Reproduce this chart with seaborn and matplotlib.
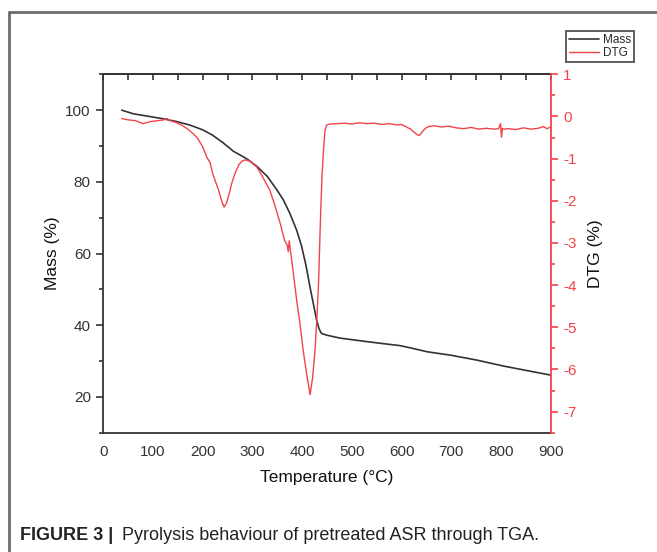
import matplotlib
matplotlib.use("Agg")
import matplotlib.pyplot as plt
from matplotlib.lines import Line2D
from matplotlib.ticker import MultipleLocator
import seaborn as sns
import pandas as pd

# ---- data ----
mass_temp = [37, 60, 90, 120, 148, 175, 200, 220, 240, 255, 262, 275, 290, 309, 330, 350,
             362, 375, 389, 399, 408, 416, 424, 429, 434, 439, 450, 476, 520, 560, 597,
             620, 651, 700, 750, 805, 850, 899]
mass_pct = [100.0, 99.0, 98.3, 97.6, 96.8, 95.8, 94.5, 93.0, 91.0, 89.3, 88.5, 87.5, 86.3,
            84.3, 81.5, 77.6, 75.0, 71.3, 66.5, 62.0, 56.5, 50.5, 45.0, 41.5, 39.0, 37.7,
            37.2, 36.4, 35.6, 34.9, 34.3, 33.6, 32.6, 31.6, 30.3, 28.6, 27.4, 26.1]

dtg_temp = [37, 50, 65, 80, 95, 110, 122, 128, 135, 148, 160, 170, 181, 190, 200, 208, 215,
            220, 225, 232, 238, 243, 248, 254, 258, 265, 272, 278, 285, 295, 309, 320, 335,
            345, 356, 365, 370, 372, 374, 380, 389, 396, 402, 409, 416, 421, 426, 430, 433,
            437, 440, 443, 446, 449, 455, 470, 485, 500, 515, 530, 545, 560, 575, 590, 600,
            610, 618, 626, 631, 636, 642, 648, 654, 665, 680, 695, 710, 725, 740, 755, 770,
            785, 795, 799, 801, 803, 806, 815, 830, 845, 860, 875, 885, 893, 899]
dtg_pct = [-0.05, -0.08, -0.10, -0.17, -0.12, -0.10, -0.08, -0.05, -0.10, -0.15, -0.22,
           -0.30, -0.41, -0.52, -0.72, -0.96, -1.10, -1.35, -1.52, -1.75, -2.00, -2.15,
           -2.05, -1.80, -1.60, -1.35, -1.16, -1.07, -1.03, -1.06, -1.20, -1.42, -1.75,
           -2.10, -2.54, -2.95, -3.05, -3.21, -2.95, -3.50, -4.36, -4.95, -5.54, -6.10,
           -6.60, -6.20, -5.54, -4.70, -3.96, -2.38, -1.40, -0.80, -0.33, -0.21, -0.18,
           -0.17, -0.16, -0.18, -0.15, -0.17, -0.16, -0.19, -0.17, -0.20, -0.19, -0.25,
           -0.30, -0.38, -0.43, -0.45, -0.36, -0.28, -0.24, -0.22, -0.25, -0.23, -0.27,
           -0.29, -0.26, -0.30, -0.28, -0.30, -0.29, -0.17, -0.49, -0.28, -0.30, -0.29,
           -0.31, -0.27, -0.30, -0.28, -0.24, -0.29, -0.25]

x_ticks = [0, 100, 200, 300, 400, 500, 600, 700, 800, 900]
mass_ticks = [20, 40, 60, 80, 100]
dtg_ticks = [-7, -6, -5, -4, -3, -2, -1, 0, 1]

mass_df = pd.DataFrame({"Temperature": mass_temp, "Mass": mass_pct})
dtg_df = pd.DataFrame({"Temperature": dtg_temp, "DTG": dtg_pct})

sns.set_style("white")
plt.rcParams["font.family"] = ["Liberation Sans", "DejaVu Sans"]
plt.rcParams["axes.unicode_minus"] = False

RED = "#f2434b"
DARK = "#333333"

fig = plt.figure(figsize=(6.57, 5.52), dpi=100)
ax = fig.add_axes([0.1572, 0.2161, 0.6810, 0.6493])

sns.lineplot(data=mass_df, x="Temperature", y="Mass", ax=ax, color=DARK,
             linewidth=1.2, sort=False, estimator=None)
ax.set_xlim(0, 900)
ax.set_ylim(10, 110)
ax.set_xticks(x_ticks)
ax.set_yticks(mass_ticks)
ax.xaxis.set_minor_locator(MultipleLocator(50))
ax.yaxis.set_minor_locator(MultipleLocator(10))
ax.tick_params(axis="both", which="major", direction="out", length=5, width=1.2,
               colors=DARK, labelsize=11, pad=4)
ax.tick_params(axis="both", which="minor", direction="out", length=3, width=1.2,
               colors=DARK)
ax.set_xlabel("Temperature (°C)", fontsize=12.5, color="#111111", labelpad=8)
ax.set_ylabel("Mass (%)", fontsize=12.5, color="#111111", labelpad=4)
for side in ["left", "bottom", "top"]:
    ax.spines[side].set_color(DARK)
    ax.spines[side].set_linewidth(1.3)
ax.spines["right"].set_visible(False)

top = ax.secondary_xaxis("top")
top.xaxis.set_major_locator(MultipleLocator(50))
top.tick_params(axis="x", direction="in", length=4, width=1.2, colors=DARK,
                labeltop=False)
top.spines["top"].set_color(DARK)
top.spines["top"].set_linewidth(1.3)

ax2 = ax.twinx()
sns.lineplot(data=dtg_df, x="Temperature", y="DTG", ax=ax2, color=RED,
             linewidth=1.0, sort=False, estimator=None)
ax2.set_ylim(-7.5, 1)
ax2.set_yticks(dtg_ticks)
ax2.yaxis.set_minor_locator(MultipleLocator(0.5))
ax2.tick_params(axis="y", which="major", direction="out", length=5, width=1.2,
                colors=RED, labelsize=11, pad=4)
ax2.tick_params(axis="y", which="minor", direction="out", length=3, width=1.2,
                colors=RED)
ax2.set_ylabel("DTG (%)", fontsize=12.5, color="#111111", labelpad=8)
ax2.spines["right"].set_color(RED)
ax2.spines["right"].set_linewidth(1.3)
for side in ["left", "top", "bottom"]:
    ax2.spines[side].set_visible(False)

handles = [Line2D([], [], color=DARK, lw=1.2), Line2D([], [], color=RED, lw=1.0)]
leg = fig.legend(handles, ["Mass", "DTG"], loc="upper right",
                 bbox_to_anchor=(634 / 657, 1 - 31 / 552), frameon=True,
                 fancybox=False, edgecolor="#444444", framealpha=1,
                 prop={"family": ["Liberation Sans Narrow", "Liberation Sans"], "size": 8.5},
                 handlelength=2.6, handletextpad=0.3, borderpad=0.25,
                 labelspacing=0.1, borderaxespad=0)
leg.get_frame().set_linewidth(1.2)

# outer panel frame (top and left edges)
fig.add_artist(Line2D([9 / 657, 1.0], [1 - 12 / 552, 1 - 12 / 552],
                      transform=fig.transFigure, color="#6b6b6b", lw=2))
fig.add_artist(Line2D([9 / 657, 9 / 657], [0.0, 1 - 12 / 552],
                      transform=fig.transFigure, color="#6b6b6b", lw=2))

fig.text(20 / 657, 1 - 535 / 552, "FIGURE 3 |", fontsize=13, fontweight="bold",
         color="#222222", va="center", ha="left")
fig.text(122 / 657, 1 - 535 / 552, "Pyrolysis behaviour of pretreated ASR through TGA.",
         fontsize=13, color="#222222", va="center", ha="left")

fig.savefig("out.png", dpi=100)
